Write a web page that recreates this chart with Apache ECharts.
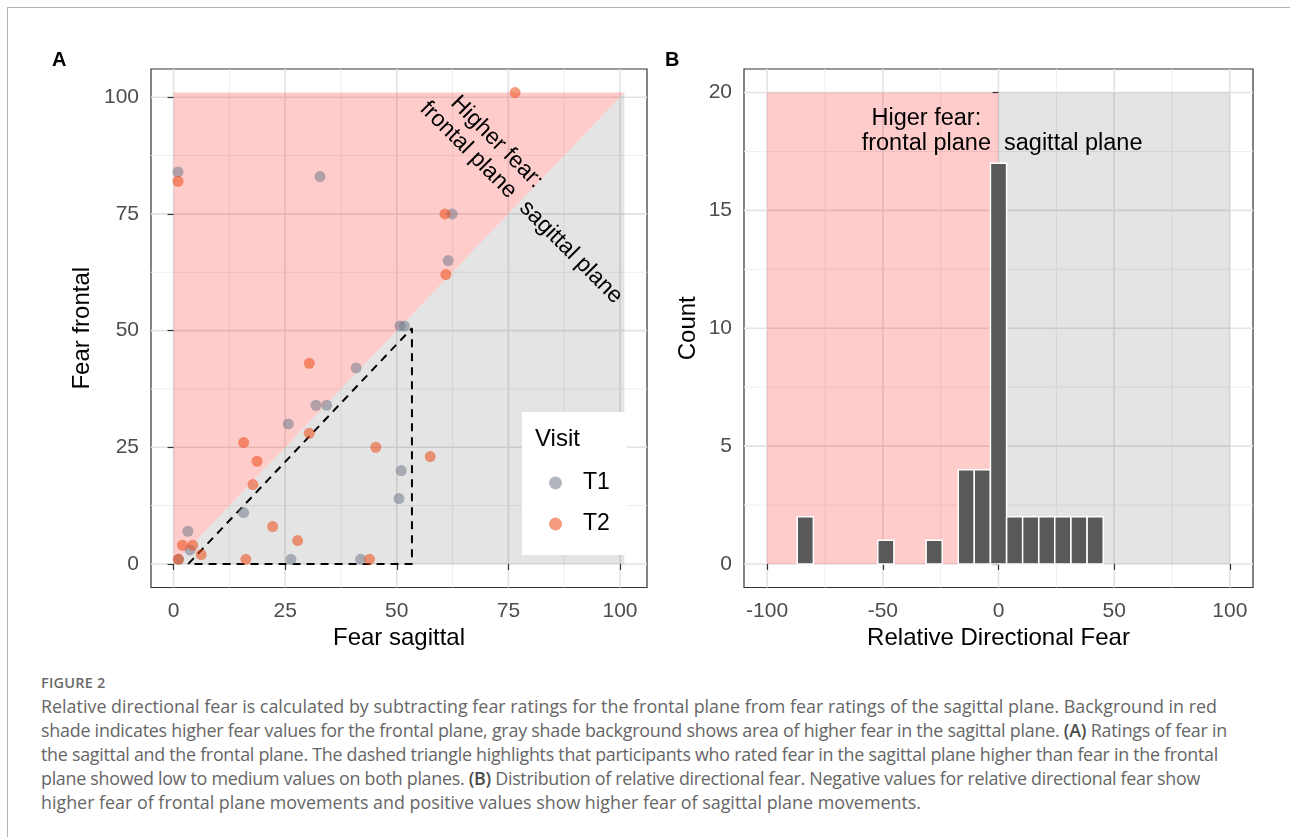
<!DOCTYPE html>
<html><head><meta charset="utf-8">
<script src="https://cdn.jsdelivr.net/npm/echarts@6/dist/echarts.min.js"></script>
<style>
html,body{margin:0;padding:0;background:#fff;width:1290px;height:837px;overflow:hidden}
#frame{position:absolute;left:7px;top:7px;right:0;bottom:0;border-top:1px solid #b4b4b4;border-left:1px solid #b4b4b4}
#chart{position:absolute;left:0;top:0;width:1290px;height:660px}
#cap{position:absolute;left:41px;top:672px;font-family:'Open Sans',sans-serif;color:#666}
#cap .fig{font-weight:600;font-size:14.5px;color:#6a6a6a;line-height:22px;letter-spacing:0.2px}
#cap .line{white-space:nowrap;font-size:16px;line-height:24px;width:max-content}
#cap b{color:#4a4a4a;font-weight:600}
</style></head>
<body>
<div id="frame"></div>
<div id="chart"></div>
<div id="cap">
<div class="fig">FIGURE 2</div>
<div class="line">Relative directional fear is calculated by subtracting fear ratings for the frontal plane from fear ratings of the sagittal plane. Background in red</div>
<div class="line">shade indicates higher fear values for the frontal plane, gray shade background shows area of higher fear in the sagittal plane. <b>(A)</b> Ratings of fear in</div>
<div class="line">the sagittal and the frontal plane. The dashed triangle highlights that participants who rated fear in the sagittal plane higher than fear in the frontal</div>
<div class="line">plane showed low to medium values on both planes. <b>(B)</b> Distribution of relative directional fear. Negative values for relative directional fear show</div>
<div class="line">higher fear of frontal plane movements and positive values show higher fear of sagittal plane movements.</div>
</div>
<script>
// ---------- DATA ----------
// Panel A: fear ratings
const sagittalT1 = [1.0, 32.8, 62.4, 61.5, 50.7, 51.7, 40.9, 31.9, 34.3, 25.7, 15.7, 3.2, 3.7, 1.1, 26.3, 41.9, 51.0, 50.5];
const frontalT1  = [84, 83, 75, 65, 51, 51, 42, 34, 34, 30, 11, 7, 3, 1, 1, 1, 20, 14];
const sagittalT2 = [76.5, 1.0, 60.8, 61.0, 30.4, 15.7, 18.7, 17.8, 30.4, 45.3, 57.5, 22.2, 27.8, 6.2, 2.0, 4.3, 16.2, 43.9, 1.1];
const frontalT2  = [101, 82, 75, 62, 43, 26, 22, 17, 28, 25, 23, 8, 5, 2, 4, 4, 1, 1, 1];
const axisTicksA = [0, 25, 50, 75, 100];
const minorA = [12.5, 37.5, 62.5, 87.5];
const redRegionA  = [[0, 0], [0, 101], [101, 101]];
const grayRegionA = [[0, 0], [101, 101], [101, 0]];
const dashedTriangle = [[3.3, 0], [53.4, 50.5], [53.4, 0], [3.3, 0]];
const annotA = [[72.4, 90.4, 'Higher fear:'], [66.0, 88.7, 'frontal plane'], [89.0, 66.8, 'sagittal plane']];

// Panel B: histogram of relative directional fear
const binCenters = [-83.5, -48.7, -27.8, -13.9, -7.0, 0, 7.0, 13.9, 20.9, 27.8, 34.8, 41.8];
const binCounts  = [2, 1, 1, 4, 4, 17, 2, 2, 2, 2, 2, 2];
const binWidth = 6.96;
const xTicksB = [-100, -50, 0, 50, 100];
const xMinorB = [-75, -25, 25, 75];
const yTicksB = [0, 5, 10, 15, 20];
const yMinorB = [2.5, 7.5, 12.5, 17.5];
const redRegionB  = [[-100, 0], [-100, 20], [0, 20], [0, 0]];
const grayRegionB = [[0, 0], [0, 20], [100, 20], [100, 0]];
const annotB = [[-31.2, 18.35, 'Higer fear:\nfrontal plane'], [32.3, 17.85, 'sagittal plane']];

// ---------- CHART ----------
const FONT = 'Liberation Sans, Arial, Helvetica, sans-serif';
const chart = echarts.init(document.getElementById('chart'));

function gridSeries(idx, xMaj, xMin, yMaj, yMin) {
  const data = [];
  xMin.forEach(v => data.push([v, 0, 0]));
  yMin.forEach(v => data.push([v, 1, 0]));
  xMaj.forEach(v => data.push([v, 0, 1]));
  yMaj.forEach(v => data.push([v, 1, 1]));
  return {
    type: 'custom', xAxisIndex: idx, yAxisIndex: idx, z: 0, silent: true, animation: false, data,
    renderItem(params, api) {
      const cs = params.coordSys;
      const v = api.value(0), dir = api.value(1), maj = api.value(2);
      let shape;
      if (dir === 0) { const p = api.coord([v, 0]); shape = {x1: p[0], y1: cs.y, x2: p[0], y2: cs.y + cs.height}; }
      else { const p = api.coord([0, v]); shape = {x1: cs.x, y1: p[1], x2: cs.x + cs.width, y2: p[1]}; }
      return {type: 'line', shape, style: {stroke: maj ? '#e3e3e3' : '#eeeeee', lineWidth: maj ? 1.6 : 1}};
    }
  };
}
function polySeries(idx, pts, color) {
  return {
    type: 'custom', xAxisIndex: idx, yAxisIndex: idx, z: 1, silent: true, animation: false, data: [[pts[0][0], pts[0][1]]],
    renderItem(params, api) {
      return {type: 'polygon', shape: {points: pts.map(p => api.coord(p))}, style: {fill: color}};
    }
  };
}
function textSeries(idx, items, rot, fs) {
  return {
    type: 'custom', xAxisIndex: idx, yAxisIndex: idx, z: 4, silent: true, animation: false,
    data: items.map((d, i) => [d[0], d[1], i]),
    renderItem(params, api) {
      const p = api.coord([api.value(0), api.value(1)]);
      return {type: 'text', x: p[0], y: p[1], rotation: rot,
        style: {text: items[api.value(2)][2], fontSize: fs, fontFamily: FONT, fill: '#000',
          textAlign: 'center', textVerticalAlign: 'middle', lineHeight: 25}};
    }
  };
}
function valueAxis(idx, min, max, ticks, name, gap, margin) {
  return {
    gridIndex: idx, type: 'value', min, max,
    axisLine: {show: false},
    axisTick: {show: true, customValues: ticks, length: 6, lineStyle: {color: '#333', width: 1.2}},
    axisLabel: {customValues: ticks, fontSize: 21, color: '#4d4d4d', fontFamily: FONT, margin},
    splitLine: {show: false}, minorSplitLine: {show: false},
    name, nameLocation: 'middle', nameGap: gap,
    nameTextStyle: {fontSize: 24, color: '#000', fontFamily: FONT}
  };
}

const option = {
  animation: false,
  backgroundColor: 'transparent',
  grid: [
    {left: 151, top: 69, width: 496, height: 518.5, show: true, borderColor: '#333', borderWidth: 1.2, backgroundColor: '#fff', containLabel: false, outerBoundsMode: 'none'},
    {left: 744, top: 69, width: 509, height: 518.5, show: true, borderColor: '#333', borderWidth: 1.2, backgroundColor: '#fff', containLabel: false, outerBoundsMode: 'none'}
  ],
  xAxis: [
    valueAxis(0, -5.05, 106.05, axisTicksA, 'Fear sagittal', 38, 13),
    valueAxis(1, -110, 110, xTicksB, 'Relative Directional Fear', 38, 13)
  ],
  yAxis: [
    valueAxis(0, -5.05, 106.05, axisTicksA, 'Fear frontal', 57, 12),
    valueAxis(1, -1, 21, yTicksB, 'Count', 44, 12)
  ],
  legend: {
    data: ['T1', 'T2'], orient: 'vertical', left: 549, top: 470, padding: 0,
    itemWidth: 13, itemHeight: 13, itemGap: 15, icon: 'circle', selectedMode: false, z: 20,
    textStyle: {fontSize: 23, color: '#000', fontFamily: FONT, lineHeight: 26, padding: [0, 0, 0, 16]}
  },
  graphic: [
    {type: 'rect', z: 10, shape: {x: 522, y: 412, width: 105, height: 143}, style: {fill: '#fff'}},
    {type: 'text', z: 20, x: 535, y: 439, style: {text: 'Visit', fontSize: 24, fontFamily: FONT, fill: '#000', textVerticalAlign: 'middle'}},
    {type: 'text', z: 20, x: 52, y: 60, style: {text: 'A', fontSize: 20, fontWeight: 'bold', fontFamily: FONT, fill: '#000', textVerticalAlign: 'middle'}},
    {type: 'text', z: 20, x: 665, y: 60, style: {text: 'B', fontSize: 20, fontWeight: 'bold', fontFamily: FONT, fill: '#000', textVerticalAlign: 'middle'}}
  ],
  series: [
    gridSeries(0, axisTicksA, minorA, axisTicksA, minorA),
    polySeries(0, redRegionA, 'rgba(255,0,0,0.2)'),
    polySeries(0, grayRegionA, 'rgba(0,0,0,0.105)'),
    {type: 'line', xAxisIndex: 0, yAxisIndex: 0, z: 2, data: dashedTriangle, symbol: 'none', silent: true,
      lineStyle: {color: '#000', width: 2, type: [8, 6]}},
    {name: 'T1', type: 'scatter', xAxisIndex: 0, yAxisIndex: 0, z: 3, symbolSize: 11,
      data: sagittalT1.map((s, i) => [s, frontalT1[i]]),
      itemStyle: {color: 'rgba(112,120,136,0.68)'}},
    {name: 'T2', type: 'scatter', xAxisIndex: 0, yAxisIndex: 0, z: 3, symbolSize: 11,
      data: sagittalT2.map((s, i) => [s, frontalT2[i]]),
      itemStyle: {color: 'rgba(238,82,30,0.72)'}},
    textSeries(0, annotA, -Math.PI / 4, 23),
    gridSeries(1, xTicksB, xMinorB, yTicksB, yMinorB),
    polySeries(1, redRegionB, 'rgba(255,0,0,0.2)'),
    polySeries(1, grayRegionB, 'rgba(0,0,0,0.105)'),
    {type: 'custom', xAxisIndex: 1, yAxisIndex: 1, z: 3, silent: true,
      data: binCenters.map((c, i) => [c, binCounts[i]]),
      renderItem(params, api) {
        const c = api.value(0), n = api.value(1);
        const p0 = api.coord([c - binWidth / 2, n]);
        const p1 = api.coord([c + binWidth / 2, 0]);
        return {type: 'rect', shape: {x: p0[0], y: p0[1], width: p1[0] - p0[0], height: p1[1] - p0[1]},
          style: {fill: '#595959', stroke: '#fff', lineWidth: 1.5}};
      }},
    textSeries(1, annotB, 0, 23.5)
  ]
};
chart.setOption(option);

// fit caption lines to the reference line widths
(function () {
  const targets = [1176, 1186, 1177, 1159, 880];
  const lines = document.querySelectorAll('#cap .line');
  const w0 = lines[0].getBoundingClientRect().width;
  const fs = 16 * 1176 / w0;
  lines.forEach(el => el.style.fontSize = fs + 'px');
  lines.forEach((el, i) => {
    const w = el.getBoundingClientRect().width;
    const n = el.textContent.length;
    const ls = (targets[i] - w) / n;
    el.style.letterSpacing = Math.max(-0.4, Math.min(0.6, ls)) + 'px';
  });
})();
</script>
</body></html>
